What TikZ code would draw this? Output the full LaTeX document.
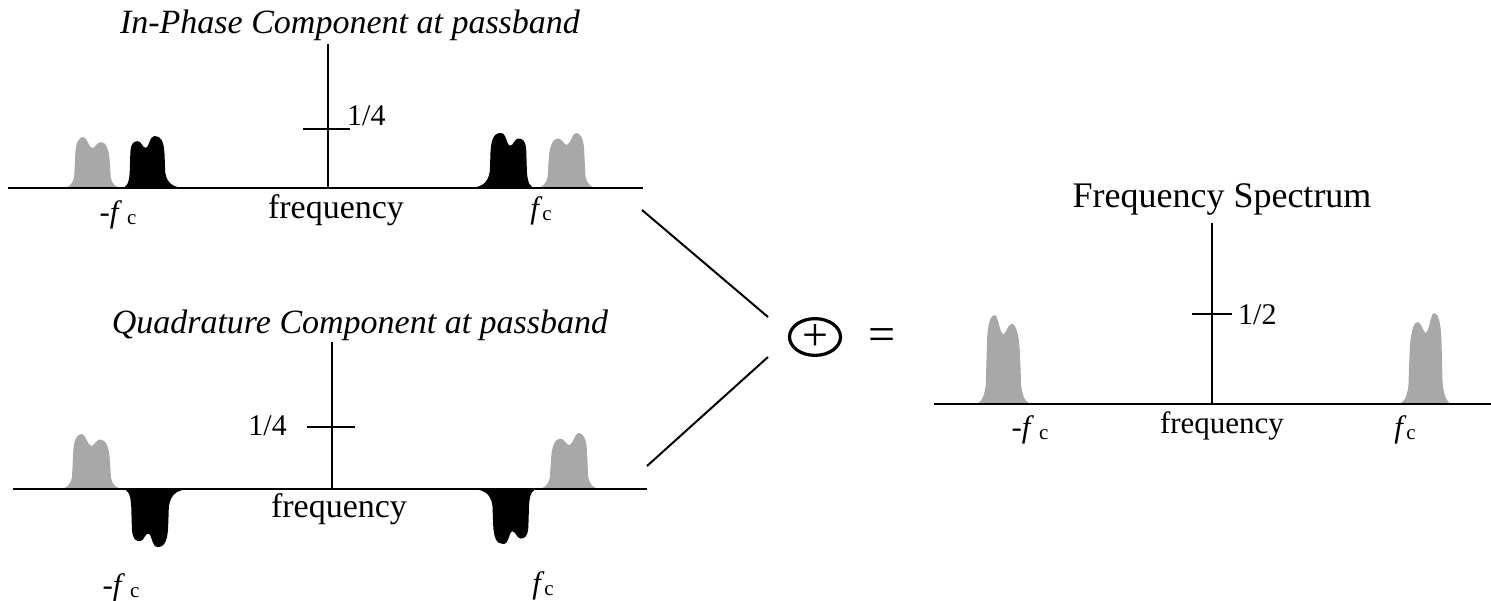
\documentclass[tikz,border=0pt]{standalone}
\usepackage{fontspec}
\setmainfont{Liberation Serif}
\usetikzlibrary{shapes.geometric}
\definecolor{bumpgray}{RGB}{168,168,168}
\tikzset{
  axisline/.style={line width=2.8pt},
  vline/.style={line width=2.4pt},
  tickline/.style={line width=2pt},
  conn/.style={line width=2pt},
  lbl/.style={inner sep=0pt, anchor=base},
  titletext/.style={lbl, font=\fontsize{34}{40}\selectfont\itshape},
  bigtext/.style={lbl, font=\fontsize{34}{40}\selectfont},
  midtext/.style={lbl, font=\fontsize{31}{36}\selectfont},
  numtext/.style={inner sep=0pt, font=\fontsize{30}{36}\selectfont},
}
\newcommand{\graybump}[4]{%
  \fill[bumpgray,shift={(#1,#2)},xscale=#3,yscale=#4]
    (0,0) .. controls (0.1,0) and (0.17,-0.05) .. (0.2,-0.22)
    -- (0.22,-0.7)
    .. controls (0.23,-0.9) and (0.28,-1) .. (0.35,-1)
    .. controls (0.41,-1) and (0.43,-0.8) .. (0.5,-0.78)
    .. controls (0.55,-0.8) and (0.57,-0.9) .. (0.64,-0.9)
    .. controls (0.72,-0.9) and (0.77,-0.75) .. (0.78,-0.55)
    -- (0.8,-0.2)
    .. controls (0.83,-0.05) and (0.9,0) .. (1,0) -- cycle;}
\newcommand{\blackbump}[4]{%
  \fill[black,shift={(#1,#2)},xscale=#3,yscale=#4]
    (0,0) .. controls (0.08,0) and (0.12,-0.08) .. (0.13,-0.3)
    -- (0.14,-0.7)
    .. controls (0.15,-0.86) and (0.19,-0.9) .. (0.25,-0.9)
    .. controls (0.31,-0.9) and (0.32,-0.77) .. (0.37,-0.77)
    .. controls (0.42,-0.77) and (0.42,-1) .. (0.5,-1)
    .. controls (0.6,-1) and (0.64,-0.9) .. (0.65,-0.65)
    -- (0.66,-0.3)
    .. controls (0.69,-0.06) and (0.8,0) .. (1,0) -- cycle;}
\newcommand{\negfc}{-\textit{f}\,\raisebox{-2pt}{\fontsize{21}{21}\selectfont c}}
\newcommand{\posfc}{\textit{f}\raisebox{-2pt}{\fontsize{21}{21}\selectfont c}}
\begin{document}
\begin{tikzpicture}[x=1pt,y=-1pt]
\useasboundingbox (0,0) rectangle (1491,600);

% ---------- top panel: in-phase ----------
\graybump{62}{188}{61}{51}
\blackbump{121}{188}{67}{52}
\blackbump{536}{188}{-70}{55}
\graybump{598}{188}{-63}{55}
\coordinate (ta1) at (8,188);  \coordinate (ta2) at (643,188);
\coordinate (tv1) at (328,44); \coordinate (tv2) at (328,188);
\coordinate (tt1) at (303,129); \coordinate (tt2) at (350,129);
\draw[axisline] (ta1) -- (ta2);
\draw[vline] (tv1) -- (tv2);
\draw[tickline] (tt1) -- (tt2);
\node[titletext] (ttitle) at (350,33) {In-Phase Component at passband};
\node[numtext, anchor=base west] (tq) at (347,125) {1/4};
\node[bigtext] (tfreq) at (336,218) {frequency};
\node[midtext] (tnf) at (118,222) {\negfc};
\node[midtext] (tpf) at (541,218) {\posfc};

% ---------- bottom panel: quadrature ----------
\graybump{59}{489}{65}{55}
\blackbump{122}{489}{71}{-58}
\blackbump{538}{489}{-69}{-55}
\graybump{601}{489}{-64}{56}
\coordinate (ba1) at (13,489);  \coordinate (ba2) at (647,489);
\coordinate (bv1) at (332,342); \coordinate (bv2) at (332,489);
\coordinate (bt1) at (307,427); \coordinate (bt2) at (355,427);
\draw[axisline] (ba1) -- (ba2);
\draw[vline] (bv1) -- (bv2);
\draw[tickline] (bt1) -- (bt2);
\node[titletext] (btitle) at (360,333) {Quadrature Component at passband};
\node[numtext, anchor=base east] (bq) at (287,435) {1/4};
\node[bigtext] (bfreq) at (339,517) {frequency};
\node[midtext] (bnf) at (121,595) {\negfc};
\node[midtext] (bpf) at (543,593) {\posfc};

% ---------- sum ----------
\node[ellipse, draw, line width=3.2pt, minimum width=51pt, minimum height=34pt, inner sep=0pt,
      font=\fontsize{46}{46}\selectfont] (sum) at (815,337) {+};
\node[lbl, font=\fontsize{48}{48}\selectfont] (eq) at (882,350) {=};
\coordinate (u1) at (642,210); \coordinate (u2) at (768,317);
\coordinate (d1) at (647,466); \coordinate (d2) at (768,357);
\draw[conn] (u1) -- (u2);
\draw[conn] (d1) -- (d2);

% ---------- right panel: spectrum ----------
\graybump{974}{404}{59}{89}
\graybump{1454}{404}{-57}{91}
\coordinate (ra1) at (934,404);  \coordinate (ra2) at (1491,404);
\coordinate (rv1) at (1212,223); \coordinate (rv2) at (1212,404);
\coordinate (rt1) at (1192,314); \coordinate (rt2) at (1232,314);
\draw[axisline] (ra1) -- (ra2);
\draw[vline] (rv1) -- (rv2);
\draw[tickline] (rt1) -- (rt2);
\node[lbl, font=\fontsize{36}{42}\selectfont] (rtitle) at (1222,207) {Frequency Spectrum};
\node[numtext, anchor=base west] (rq) at (1238,324) {1/2};
\node[midtext] (rfreq) at (1222,433) {frequency};
\node[midtext] (rnf) at (1030,437) {\negfc};
\node[midtext] (rpf) at (1405,437) {\posfc};
\end{tikzpicture}
\end{document}
